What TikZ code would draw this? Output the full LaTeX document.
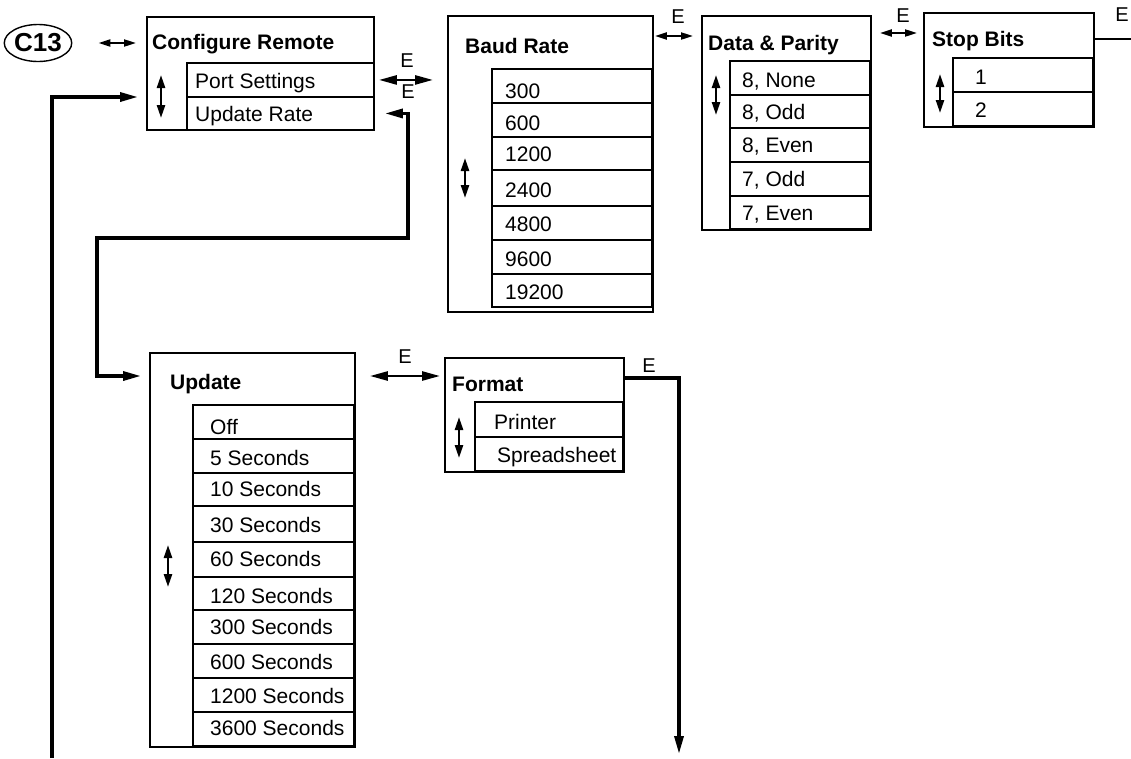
\documentclass[tikz,border=0pt]{standalone}
\usepackage{fontspec}
\setmainfont{Liberation Sans}
\usetikzlibrary{arrows.meta,calc,shapes.geometric}
\begin{document}
\begin{tikzpicture}[x=1pt,y=-1pt,
  box/.style={draw, line width=1.9pt, rectangle, inner sep=0pt, anchor=north west},
  rowline/.style={line width=1.9pt},
  txt/.style={anchor=west, inner sep=0pt, text height=15pt, text depth=0pt, font=\fontsize{21}{25}\selectfont},
  hdr/.style={txt, font=\bfseries\fontsize{21}{25}\selectfont},
  elab/.style={inner sep=0pt, font=\fontsize{20}{24}\selectfont},
  conn/.style={line width=3.3pt},
  sdbl/.style={line width=2pt, arrows={Triangle[length=12pt,width=7pt]-Triangle[length=12pt,width=7pt]}},
  bdbl/.style={line width=2.6pt, arrows={Triangle[length=18pt,width=9pt]-Triangle[length=18pt,width=9pt]}},
  ud/.style={line width=2.4pt, arrows={Triangle[length=13pt,width=8pt]-Triangle[length=13pt,width=8pt]}},
  onetip/.style={arrows={-Triangle[length=18pt,width=9pt]}},
  twotip/.style={arrows={Triangle[length=18pt,width=9pt]-Triangle[length=18pt,width=9pt]}}
]
\useasboundingbox (0,0) rectangle (1131,758);

% C13
\node[draw, ellipse, line width=1.4pt, minimum width=62pt, minimum height=37pt, inner sep=0pt,
      font=\bfseries\fontsize{26}{28}\selectfont] (c13) at (38,43) {C13};

% Configure Remote
\node[box, minimum width=227pt, minimum height=113pt] (cfg) at (146,16) {};
\node[box, minimum width=187pt, minimum height=34pt] (port) at (186,62) {};
\node[box, minimum width=187pt, minimum height=33pt] (updrate) at (186,96) {};
\node[hdr] (cfgh) at (152,42) {Configure Remote};
\node[txt] (portt) at (195,81) {Port Settings};
\node[txt] (updratet) at (195,114) {Update Rate};
\draw[ud] (161,75) -- (161,118);

% Baud Rate
\node[box, minimum width=205pt, minimum height=296pt] (baud) at (447,15) {};
\node[hdr] (baudh) at (465,46) {Baud Rate};
\foreach \t/\b/\y/\l [count=\i] in {69/103/91/300, 103/137/123/600, 137/170/154/1200,
    170/206/190/2400, 206/240/224/4800, 240/274/259/9600, 274/307/292/19200}{
  \draw[rowline] (492,\t) rectangle (652,\b);
  \node[txt] (baud\i) at (505,\y) {\l};
}
\draw[ud] (465,158) -- (465,198);

% Data & Parity
\node[box, minimum width=169pt, minimum height=214pt] (data) at (701,15) {};
\node[hdr] (datah) at (708,43) {Data \& Parity};
\foreach \t/\b/\y/\l [count=\i] in {61/95/80/{8, None}, 95/128/112/{8, Odd}, 128/162/145/{8, Even},
    162/196/179/{7, Odd}, 196/229/213/{7, Even}}{
  \draw[rowline] (730,\t) rectangle (870,\b);
  \node[txt] (data\i) at (742,\y) {\l};
}
\draw[ud] (716,75) -- (716,115);

% Stop Bits
\node[box, minimum width=170pt, minimum height=114pt] (stop) at (923,12) {};
\node[hdr] (stoph) at (932,39) {Stop Bits};
\draw[rowline] (953,58) rectangle (1093,92);
\draw[rowline] (953,92) rectangle (1093,126);
\node[txt] (stop1) at (975,77) {1};
\node[txt] (stop2) at (975,110) {2};
\draw[ud] (940,74) -- (940,113);

% Update
\node[box, minimum width=205pt, minimum height=394pt] (upd) at (149,352) {};
\node[hdr] (updh) at (170,382) {Update};
\foreach \t/\b/\y/\l [count=\i] in {405/439/427/Off, 439/473/458/5 Seconds, 473/506/489/10 Seconds,
    506/542/525/30 Seconds, 542/577/559/60 Seconds, 577/610/596/120 Seconds, 610/644/627/300 Seconds,
    644/678/662/600 Seconds, 678/712/696/1200 Seconds, 712/746/728/3600 Seconds}{
  \draw[rowline] (193,\t) rectangle (354,\b);
  \node[txt] (upd\i) at (210,\y) {\l};
}
\draw[ud] (168,545) -- (168,587);

% Format
\node[box, minimum width=179pt, minimum height=114pt] (fmt) at (444,357) {};
\node[hdr] (fmth) at (452,384) {Format};
\draw[rowline] (475,402) rectangle (623,437);
\draw[rowline] (475,437) rectangle (623,471);
\node[txt] (fmt1) at (494,422) {Printer};
\node[txt] (fmt2) at (497,455) {Spreadsheet};
\draw[ud] (459,417) -- (459,458);

% connectors
\draw[sdbl, shorten <=26pt, shorten >=10pt] (c13.east) -- (c13.east -| cfg.west);
\draw[bdbl, shorten <=4pt, shorten >=14pt] (port.east) -- (port.east -| baud.west);
\node[elab] (e1) at (407,61) {E};
\node[elab] (e2) at (408,92) {E};

\coordinate (bd) at (672,36);
\draw[sdbl, shorten <=1pt, shorten >=8pt] (bd -| baud.east) -- (bd -| data.west);
\node[elab] (e3) at (678,17) {E};

\coordinate (ds) at (900,33);
\draw[sdbl, shorten <=8pt, shorten >=6pt] (ds -| data.east) -- (ds -| stop.west);
\node[elab] (e4) at (903,16) {E};

\coordinate (sx) at (1131,39);
\draw[line width=2.8pt] (sx -| stop.east) -- (sx);
\node[elab] (e5) at (1122,15) {E};

\coordinate (r1) at (408,238);
\coordinate (r2) at (97,238);
\coordinate (r3) at (97,376);
\draw[conn, twotip, shorten <=10pt, shorten >=8pt] (updrate.east) -| (r1) -- (r2) -- (r3) -- (r3 -| upd.west);

\coordinate (l0) at (52,758);
\coordinate (l1) at (52,97);
\draw[conn, onetip, shorten >=8pt] (l0) -- (l1) -- (l1 -| cfg.west);

\draw[bdbl, shorten <=14pt, shorten >=4pt] (r3 -| upd.east) -- (r3 -| fmt.west);
\node[elab] (e6) at (405,357) {E};

\coordinate (f1) at (679,378);
\coordinate (f2) at (679,754);
\draw[conn, onetip] (f1 -| fmt.east) -- (f1) -- (f2);
\node[elab] (e7) at (649,366) {E};
\end{tikzpicture}
\end{document}
